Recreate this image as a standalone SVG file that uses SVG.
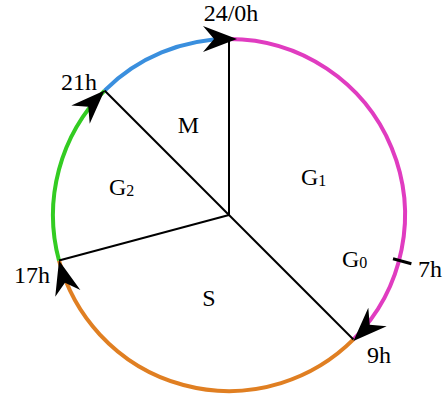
<svg xmlns="http://www.w3.org/2000/svg" width="445" height="394" viewBox="0 0 445 394">
  <style>
    .arc { fill: none; stroke-width: 4; }
    .radius { stroke: #000; stroke-width: 2; fill: none; }
    .lbl { font-family: "Liberation Serif", "Times New Roman", serif; font-size: 24px; fill: #000; }
    .reg { font-family: "Liberation Serif", "Times New Roman", serif; font-size: 24px; fill: #000; }
    .sub { font-size: 16px; }
  </style>
  <defs>
    <path id="ah" d="M0,0 L-34,-13 L-23,0 L-34,13 Z" fill="#000"/>
  </defs>
  <rect width="445" height="394" fill="#fff"/>
  <g id="arcs">
    <path class="arc" stroke="#3a8fde" d="M104.55,90.55 A176,176 0 0 1 229,39"/>
    <path class="arc" stroke="#e03cc0" d="M229,39 A176,176 0 0 1 353.45,339.45"/>
    <path class="arc" stroke="#e07f22" d="M353.45,339.45 A176,176 0 0 1 59,260.55"/>
    <path class="arc" stroke="#33cc22" d="M59,260.55 A176,176 0 0 1 104.55,90.55"/>
  </g>
  <g id="connectors">
    <line class="radius" x1="229" y1="215" x2="229" y2="39"/>
    <line class="radius" x1="229" y1="215" x2="104.55" y2="90.55"/>
    <line class="radius" x1="229" y1="215" x2="59" y2="260.55"/>
    <line class="radius" x1="229" y1="215" x2="353.45" y2="339.45"/>
    <line stroke="#000" stroke-width="3" x1="393" y1="258.8" x2="411.4" y2="263.7"/>
    <use href="#ah" transform="translate(237,39)"/>
    <use href="#ah" transform="translate(104.55,90.55) rotate(-45)"/>
    <use href="#ah" transform="translate(59,260.55) rotate(-105)"/>
    <use href="#ah" transform="translate(353.45,341) rotate(135)"/>
  </g>
  <g id="t24"><text class="lbl" x="231" y="21" text-anchor="middle">24/0h</text></g>
  <g id="t21"><text class="lbl" x="97" y="90" text-anchor="end">21h</text></g>
  <g id="t17"><text class="lbl" x="50" y="283" text-anchor="end">17h</text></g>
  <g id="t9"><text class="lbl" x="367" y="363">9h</text></g>
  <g id="t7"><text class="lbl" x="418" y="277">7h</text></g>
  <g id="M"><text class="reg" x="188.5" y="133" text-anchor="middle">M</text></g>
  <g id="G2"><text class="reg" x="109" y="195">G<tspan class="sub" dy="1">2</tspan></text></g>
  <g id="G1"><text class="reg" x="301" y="185">G<tspan class="sub" dy="1">1</tspan></text></g>
  <g id="G0"><text class="reg" x="342" y="267">G<tspan class="sub" dy="1">0</tspan></text></g>
  <g id="S"><text class="reg" x="209" y="306" text-anchor="middle">S</text></g>
</svg>
